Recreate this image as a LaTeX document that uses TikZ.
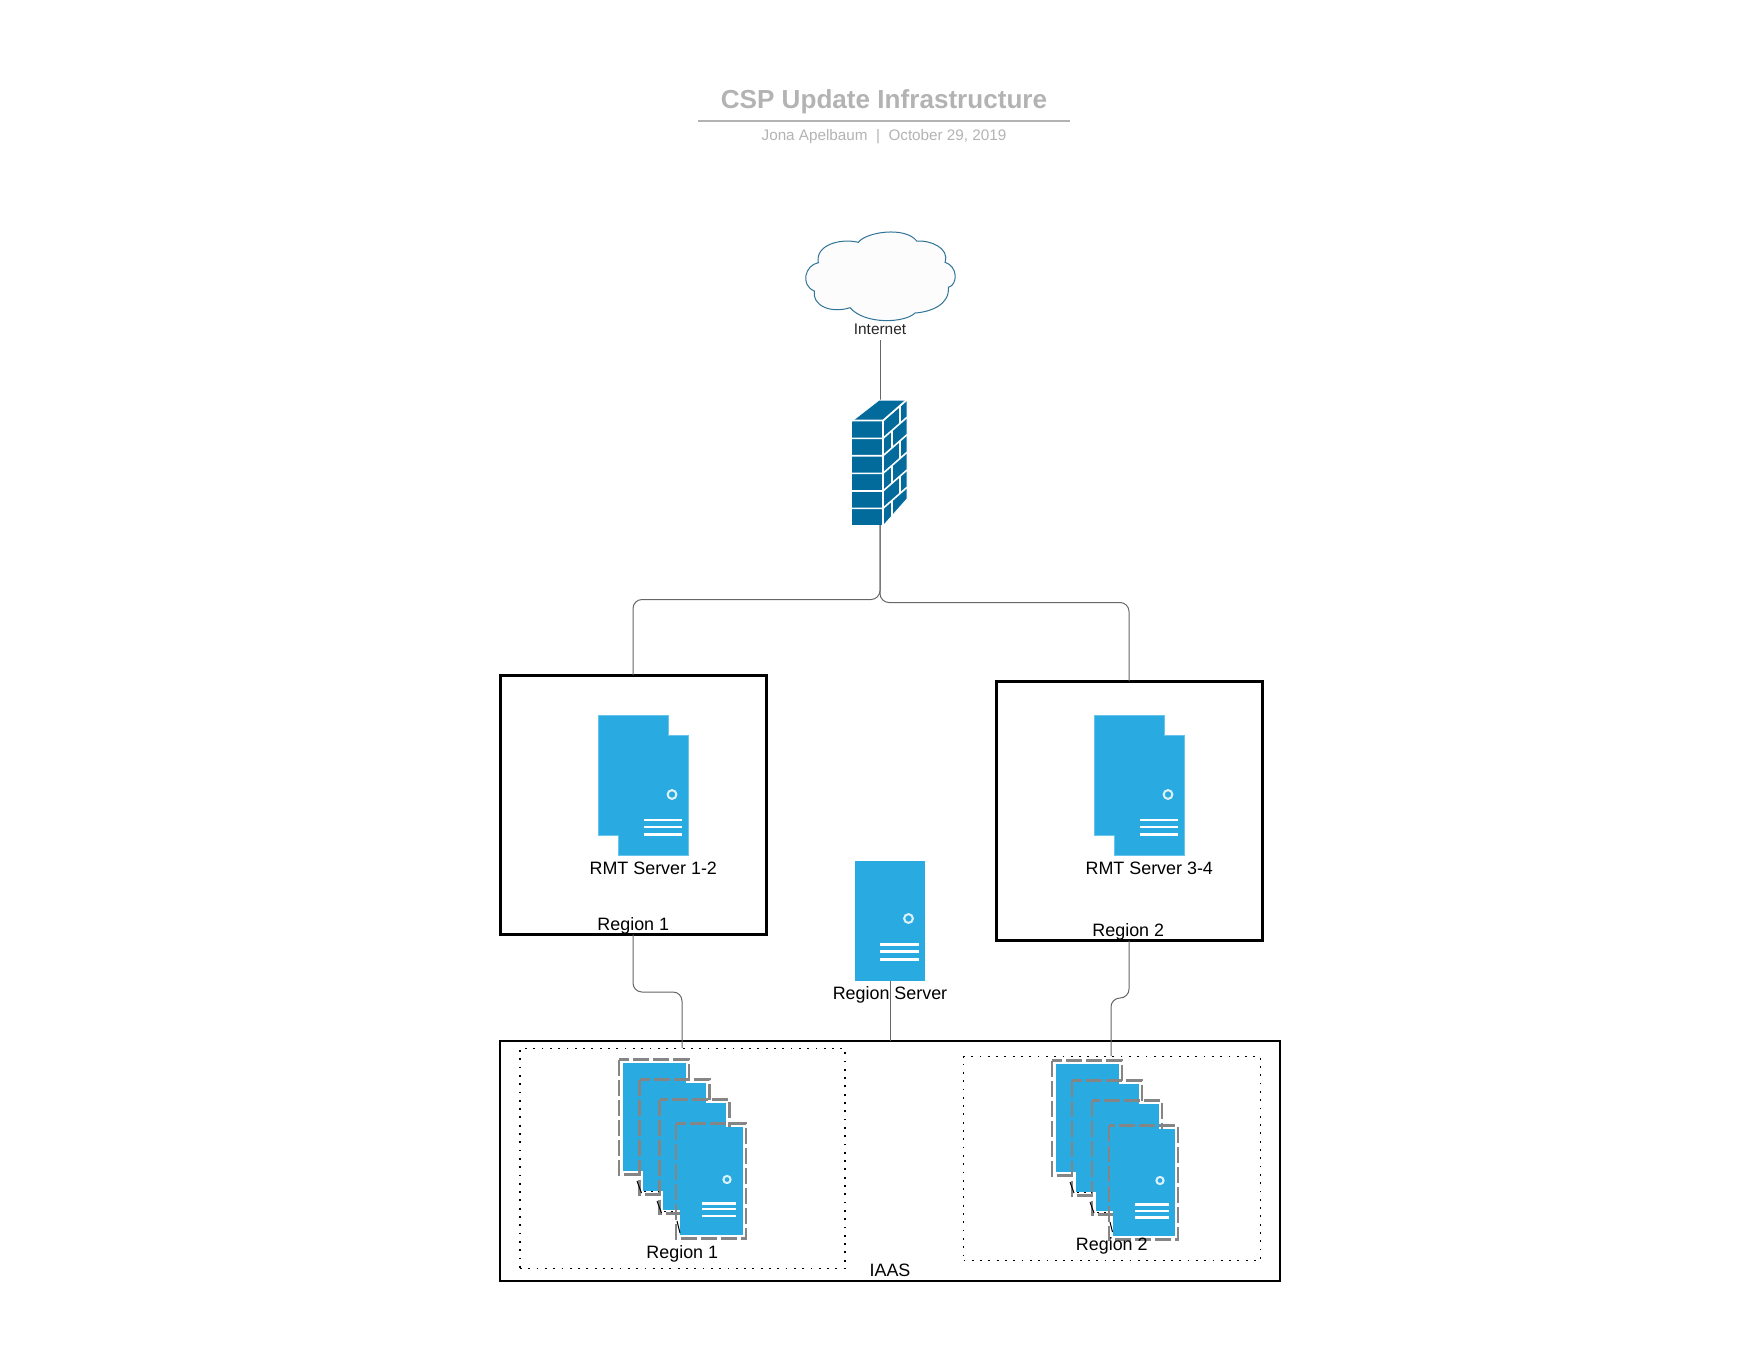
\documentclass[tikz,border=0pt]{standalone}
\usepackage{fontspec}
\setmainfont{Liberation Sans}
\definecolor{srv}{HTML}{29ABE2}
\definecolor{fwc}{HTML}{036B9C}
\definecolor{conn}{HTML}{666666}
\definecolor{dash}{HTML}{858585}
\definecolor{ttl}{HTML}{B3B3B3}
\definecolor{cld}{HTML}{2F7397}
\tikzset{
  x=1pt,y=-1pt,
  lbl/.style={inner sep=0pt,font=\fontsize{17.9}{20}\selectfont,text=black},
  regionbox/.style={draw=black,line width=3pt,inner sep=0pt,outer sep=0pt,anchor=north west},
  connline/.style={draw=conn,line width=1pt},
  dotbox/.style={draw=black,line width=1.4pt,dash pattern=on 1.8pt off 6.5pt,inner sep=0pt,outer sep=0pt,anchor=north west},
  srvblue/.style={fill=srv,draw=srv!70!white,line width=.8pt},
  srvline/.style={draw=white,line width=2.8pt},
  srvdot/.style={draw=white!85!srv,line width=2pt,fill=srv},
  gdash/.style={draw=dash,line width=2.6pt,dash pattern=on 16pt off 4pt},
  tick/.style={draw=black,line width=1pt},
  tickdots/.style={draw=black,line width=1.6pt,dash pattern=on 2pt off 5pt},
}
\newcommand{\stacksrv}[5]{% x0,y0,w,h,name
  \node[fill=srv,draw=none,inner sep=0pt,outer sep=0pt,minimum width=#3-7,minimum height=#4-7,anchor=north west] (#5) at (#1+3.5,#2+3.5) {};
  \draw[gdash] (#1,#2) rectangle (#1+#3,#2+#4);
}
\begin{document}
\begin{tikzpicture}
\useasboundingbox (0,0) rectangle (1760,1360);
% title
\node[inner sep=0pt,text=ttl,font=\bfseries\fontsize{26.1}{30}\selectfont] (title) at (884,102) {CSP Update Infrastructure};
\coordinate (ruleL) at (698,120.7);
\coordinate (ruleR) at (1070,120.7);
\draw[draw=ttl,line width=1.6pt] (ruleL) -- (ruleR);
\node[inner sep=0pt,text=ttl,font=\fontsize{15.25}{18}\selectfont] (subtitle) at (884,136.5) {Jona Apelbaum\ \ |\ \ October 29, 2019};
% cloud
\draw[draw=cld,line width=1pt,fill=black!1]
  (858.3,242.3) .. controls (866,232) and (905,226) .. (916.7,241)
  .. controls (930,240) and (950,248) .. (945,262.3)
  .. controls (958,266) and (958,285) .. (948.3,287.3)
  .. controls (950,305) and (930,312) .. (915,313)
  .. controls (905,323) and (865,325) .. (850,307.7)
  .. controls (830,314) and (812,305) .. (814.3,291)
  .. controls (800,285) and (805,265) .. (818.3,262.7)
  .. controls (815,245) and (840,238) .. (858.3,242.3) -- cycle;
\node[inner sep=0pt,font=\fontsize{15.4}{18}\selectfont,text=black!85] (inet) at (880,329.5) {Internet};
% firewall
\coordinate (fwtop) at (880,400);
\coordinate (fwbot) at (880,525);
\coordinate (inetb) at (880,340);
\draw[connline] (inetb) -- (fwtop);
\fill[fwc] (852,421) -- (879,400) -- (906,400) -- (883,421) -- cycle;
\fill[fwc] (852,421) rectangle (882,525);
\fill[fwc] (884,421) -- (907,401) -- (907,499) -- (884,525) -- cycle;
\draw[white,line width=1pt] (852,421) -- (879,400) -- (906,400);
\draw[white,line width=1.6pt] (852,420.5) -- (883,420.5) -- (907,399.5);
\draw[white,line width=1.6pt] (883,420.5) -- (883,525.5);
\draw[white,line width=1pt] (907,400) -- (907,499) -- (884,525);
\foreach \a in {438.3,455.7,473.3,491,508.3}{
  \draw[white,line width=1.6pt] (852,\a) -- (883,\a) -- (907,\a-21);
}
\foreach \a/\b/\c in {421/438.3/900,438.3/455.7/891.7,455.7/473.3/900,473.3/491/891.7,491/508.3/900,508.3/525/891.7}{
  \draw[white,line width=1.6pt] (\c,\a-\c*.875+883*.875) -- (\c,\b-\c*.875+883*.875);
}
% region boxes
\node[regionbox,minimum width=266pt,minimum height=259.5pt] (r1) at (500,675) {};
\node[regionbox,minimum width=266pt,minimum height=259.5pt] (r2) at (996,681) {};
\node[draw=black,line width=2pt,inner sep=0pt,outer sep=0pt,anchor=north west,minimum width=780pt,minimum height=240pt] (iaas) at (500,1040.7) {};
\node[dotbox,minimum width=325pt,minimum height=220pt] (d1) at (520,1048.5) {};
\node[dotbox,minimum width=297pt,minimum height=204pt] (d2) at (963.5,1056.5) {};
% connectors
\coordinate (jl) at (633,599.5);
\coordinate (jr) at (1129,602.5);
\draw[connline,rounded corners=9pt] (fwbot) |- (jl) -- (r1.north);
\draw[connline,rounded corners=9pt] (fwbot) |- (jr) -- (r2.north);
\coordinate (b1) at (633,992);
\coordinate (b2) at (1129,998);
\coordinate (e1) at (682,1048);
\coordinate (e2) at (1111,1056);
\draw[connline,rounded corners=9pt] (r1.south) -- (b1) -| (e1);
\draw[connline,rounded corners=9pt] (r2.south) -- (b2) -| (e2);
% RMT 1-2
\begin{scope}[yshift=-0.5pt]
\draw[srvblue] (598,715) -- (668,715) -- (668,735) -- (688,735) -- (688,855) -- (618,855) -- (618,835) -- (598,835) -- cycle;
\draw[srvdot] (672,794) circle (4.4);
\draw[srvline] (644,819.5) -- (682,819.5) (644,826.5) -- (682,826.5) (644,834) -- (682,834);
\end{scope}
\begin{scope}[xshift=496pt,yshift=-0.5pt]
\draw[srvblue] (598,715) -- (668,715) -- (668,735) -- (688,735) -- (688,855) -- (618,855) -- (618,835) -- (598,835) -- cycle;
\draw[srvdot] (672,794) circle (4.4);
\draw[srvline] (644,819.5) -- (682,819.5) (644,826.5) -- (682,826.5) (644,834) -- (682,834);
\end{scope}
% region server
\node[fill=srv,inner sep=0pt,outer sep=0pt,minimum width=70pt,minimum height=120pt,anchor=north west] (rs) at (855,860.5) {};
\draw[srvdot] (908.5,918.5) circle (4.4);
\draw[srvline] (880,944.5) -- (919,944.5) (880,951.5) -- (919,951.5) (880,959.5) -- (919,959.5);
\draw[connline] (rs.south) -- (iaas.north);
% labels
\node[lbl] (t1) at (653.3,868.5) {RMT Server 1-2};
\node[lbl] (t2) at (1149.3,868.5) {RMT Server 3-4};
\node[lbl] (t3) at (633.3,925.5) {Region 1};
\node[lbl] (t4) at (1128.3,931.5) {Region 2};
\node[lbl] (t5) at (890,994.5) {Region Server};
\node[lbl] (t6) at (890,1270) {IAAS};
% stack 1
\stacksrv{619}{1059.5}{70}{115}{s1a}
\stacksrv{639.5}{1079.5}{70}{115}{s1b}
\stacksrv{659.5}{1099.5}{70}{114}{s1c}
\stacksrv{676}{1123.5}{70}{115}{s1d}
\draw[tick] (637,1181) -- (641.5,1193);
\draw[tick] (657,1201) -- (661.5,1213);
\draw[tick] (677,1221) -- (680,1233);
\draw[tickdots] (644,1191.5) -- (659,1191.5);
\draw[tickdots] (664,1211.5) -- (676,1211.5);
\draw[srvdot] (727,1179.5) circle (3.6);
\draw[srvline] (702,1203.5) -- (736,1203.5) (702,1209) -- (736,1209) (702,1216) -- (736,1216);
\node[lbl] (t7) at (682.3,1254) {Region 1};
% stack 2
\stacksrv{1052}{1060.5}{70}{115}{s2a}
\stacksrv{1072}{1080.5}{70}{115}{s2b}
\stacksrv{1092}{1100.5}{70}{114}{s2c}
\stacksrv{1109}{1125.5}{69}{114}{s2d}
\draw[tick] (1070,1182) -- (1074,1193);
\draw[tick] (1090,1202) -- (1094,1213);
\draw[tick] (1110,1222) -- (1112.5,1232);
\draw[tickdots] (1077,1192.5) -- (1092,1192.5);
\draw[tickdots] (1097,1212.5) -- (1109,1212.5);
\draw[srvdot] (1160,1180.5) circle (3.6);
\draw[srvline] (1135,1204.5) -- (1169,1204.5) (1135,1211) -- (1169,1211) (1135,1217.5) -- (1169,1217.5);
\node[lbl] (t8) at (1111.8,1245.8) {Region 2};
\end{tikzpicture}
\end{document}
